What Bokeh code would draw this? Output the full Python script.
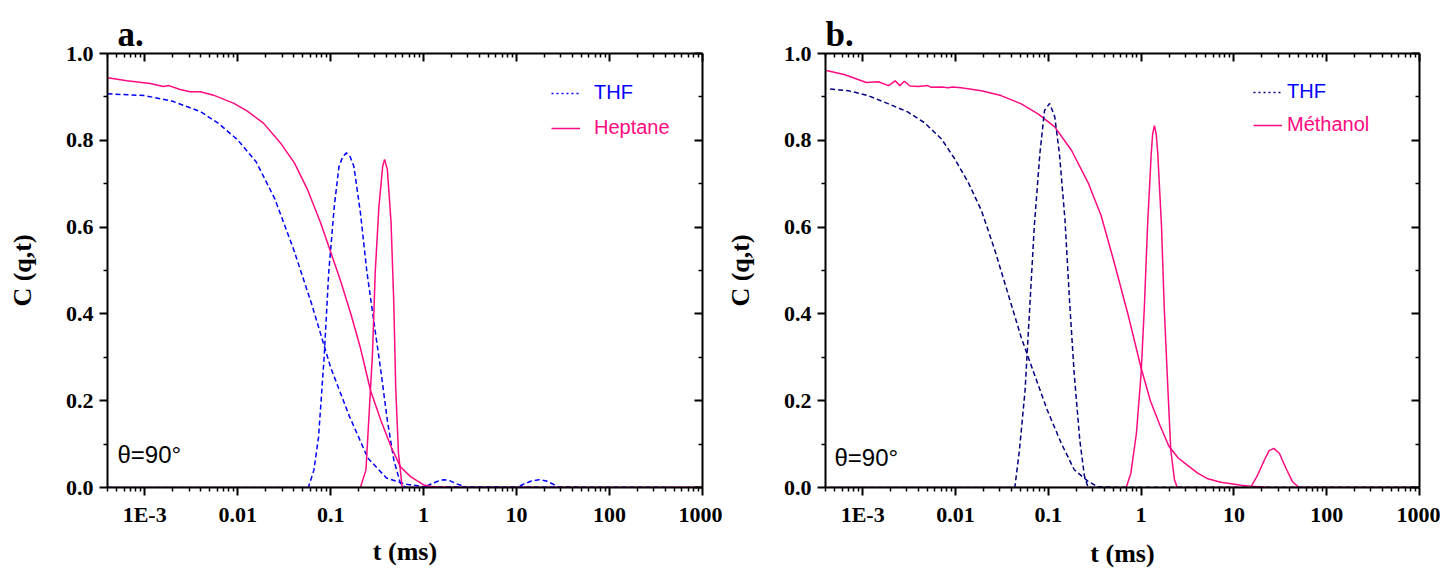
import numpy as np
from bokeh.plotting import figure
from bokeh.models import (Range1d, FixedTicker, LogAxis, LinearAxis, Legend,
                          LegendItem, Label, Title, CustomJSTickFormatter)
from bokeh.layouts import row
from bokeh.embed import file_html
from bokeh.resources import INLINE

# ---------------- data (t given as log10 of t in ms) ----------------
X_TICKS = [1e-3, 1e-2, 1e-1, 1.0, 10.0, 100.0, 1000.0]
X_TICK_LABELS = ["1E-3", "0.01", "0.1", "1", "10", "100", "1000"]
Y_TICKS = [0.0, 0.2, 0.4, 0.6, 0.8, 1.0]
Y_TICK_LABELS = ["0.0", "0.2", "0.4", "0.6", "0.8", "1.0"]
Y_MINOR = [0.1, 0.3, 0.5, 0.7, 0.9]

# panel a : THF correlation function
THF_A_DECAY_LOGT = [-3.40, -3.0, -2.7, -2.4, -2.2, -2.0, -1.8, -1.6, -1.4, -1.2,
                    -1.0, -0.8, -0.6, -0.4, -0.2, 0.0, 3.0]
THF_A_DECAY_C = [0.907, 0.903, 0.890, 0.866, 0.838, 0.801, 0.750, 0.665, 0.550, 0.420,
                 0.277, 0.165, 0.068, 0.022, 0.008, 0.002, 0.0]
# panel a : THF distribution
THF_A_DIST_LOGT = [-3.40, -1.24, -1.18, -1.13, -1.07, -1.02, -0.96, -0.91, -0.87, -0.83,
                   -0.79, -0.75, -0.68, -0.61, -0.53, -0.46, -0.39, -0.32, -0.25, -0.19,
                   0.0, 0.08, 0.16, 0.215, 0.28, 0.36, 0.47,
                   1.0, 1.08, 1.16, 1.24, 1.32, 1.40, 1.46, 3.0]
THF_A_DIST_C = [0.0, 0.0, 0.040, 0.116, 0.299, 0.497, 0.649, 0.740, 0.762, 0.771,
                0.762, 0.740, 0.634, 0.497, 0.375, 0.269, 0.155, 0.063, 0.010, 0.0,
                0.0, 0.008, 0.015, 0.018, 0.016, 0.008, 0.0,
                0.0, 0.008, 0.015, 0.018, 0.015, 0.007, 0.0, 0.0]
# panel a : Heptane correlation function
HEP_DECAY_LOGT = [-3.40, -3.19, -2.94, -2.80, -2.74, -2.62, -2.51, -2.40, -2.26, -2.04,
                  -1.90, -1.72, -1.54, -1.39, -1.25, -1.11, -1.0, -0.89, -0.78, -0.68,
                  -0.57, -0.46, -0.35, -0.25, -0.14, 0.0, 0.1, 0.3, 3.0]
HEP_DECAY_C = [0.944, 0.937, 0.931, 0.924, 0.926, 0.917, 0.912, 0.912, 0.904, 0.885,
               0.868, 0.839, 0.794, 0.748, 0.687, 0.611, 0.543, 0.474, 0.398, 0.322,
               0.223, 0.155, 0.094, 0.048, 0.025, 0.006, 0.002, 0.0, 0.0]
# panel a : Heptane distribution
HEP_DIST_LOGT = [-3.40, -0.68, -0.62, -0.59, -0.55, -0.52, -0.48, -0.44, -0.42, -0.39,
                 -0.35, -0.32, -0.30, -0.27, -0.23, 3.0]
HEP_DIST_C = [0.0, 0.0, 0.040, 0.155, 0.307, 0.497, 0.649, 0.740, 0.756, 0.733,
              0.611, 0.421, 0.231, 0.078, 0.0, 0.0]

# panel b : THF correlation function
THF_B_DECAY_LOGT = [-3.35, -3.15, -2.94, -2.72, -2.51, -2.33, -2.15, -2.01, -1.86, -1.72,
                    -1.58, -1.43, -1.29, -1.15, -1.01, -0.86, -0.72, -0.57, -0.47, -0.3, 3.0]
THF_B_DECAY_C = [0.918, 0.914, 0.903, 0.884, 0.865, 0.840, 0.803, 0.758, 0.702, 0.638,
                 0.550, 0.444, 0.345, 0.261, 0.178, 0.102, 0.041, 0.014, 0.002, 0.0, 0.0]
# panel b : THF distribution
THF_B_DIST_LOGT = [-3.35, -1.36, -1.31, -1.25, -1.20, -1.15, -1.09, -1.04, -0.985, -0.93,
                   -0.88, -0.82, -0.77, -0.72, -0.66, -0.61, -0.57, 3.0]
THF_B_DIST_C = [0.0, 0.0, 0.087, 0.223, 0.413, 0.603, 0.770, 0.869, 0.885, 0.854,
                0.770, 0.618, 0.428, 0.261, 0.109, 0.026, 0.0, 0.0]
# panel b : Methanol correlation function
MET_DECAY_LOGT = [-3.39, -3.19, -2.96, -2.83, -2.72, -2.65, -2.60, -2.55, -2.49, -2.40,
                  -2.30, -2.26, -2.15, -2.08, -2.03, -1.94, -1.72, -1.51, -1.29, -1.11,
                  -0.93, -0.75, -0.57, -0.43, -0.29, -0.14, 0.0, 0.10, 0.20, 0.30,
                  0.40, 0.47, 0.61, 0.72, 0.86, 1.08, 1.18, 1.4, 3.0]
MET_DECAY_C = [0.961, 0.951, 0.933, 0.935, 0.926, 0.937, 0.926, 0.936, 0.925, 0.924,
               0.926, 0.922, 0.923, 0.921, 0.923, 0.921, 0.914, 0.903, 0.884, 0.861,
               0.831, 0.777, 0.702, 0.626, 0.519, 0.398, 0.276, 0.200, 0.145, 0.095,
               0.068, 0.056, 0.033, 0.020, 0.012, 0.005, 0.003, 0.0, 0.0]
# panel b : Methanol distribution
MET_DIST_LOGT = [-3.39, -0.16, -0.11, -0.05, 0.0, 0.035, 0.07, 0.11, 0.125, 0.144,
                 0.163, 0.18, 0.22, 0.25, 0.29, 0.32, 0.36, 0.39,
                 1.18, 1.25, 1.33, 1.38, 1.43, 1.49, 1.56, 1.63, 1.70, 3.0]
MET_DIST_C = [0.0, 0.0, 0.033, 0.125, 0.261, 0.413, 0.603, 0.770, 0.815, 0.834,
              0.815, 0.770, 0.603, 0.413, 0.223, 0.087, 0.018, 0.0,
              0.0, 0.026, 0.064, 0.085, 0.090, 0.079, 0.045, 0.014, 0.0, 0.0]

PINK = "#FF0A80"
BLUE = "#0000FF"
NAVY = "#000080"
SERIF = "Liberation Serif"
SANS = "Liberation Sans"

X_MIN = 10 ** -3.40
X_MAX = 1000.0
FIG_H = 570


def t(logt):
    return 10 ** np.array(logt, dtype=float)


X_FMT = CustomJSTickFormatter(args=dict(labels=X_TICK_LABELS), code="""
    const i = Math.round(Math.log10(tick)) + 3;
    return (i >= 0 && i < labels.length) ? labels[i] : "";
""")
Y_FMT = CustomJSTickFormatter(args=dict(labels=Y_TICK_LABELS), code="""
    const i = Math.round(tick * 5);
    return (i >= 0 && i < labels.length) ? labels[i] : "";
""")
BLANK_FMT = CustomJSTickFormatter(code='return "";')


def make_panel(width, border_left, border_right, border_top, frame_h, xlabel_standoff,
               panel_label, label_offset):
    p = figure(width=width, height=FIG_H, x_axis_type="log",
               x_range=Range1d(X_MIN, X_MAX), y_range=Range1d(0, 1),
               output_backend="svg", toolbar_location=None,
               min_border_left=border_left, min_border_right=border_right,
               min_border_top=border_top,
               min_border_bottom=FIG_H - border_top - frame_h)
    p.outline_line_color = None
    p.xgrid.visible = False
    p.ygrid.visible = False

    x_minor = [m * 10.0 ** e for e in range(-4, 3) for m in range(2, 10)
               if X_MIN <= m * 10.0 ** e <= X_MAX]
    xt = FixedTicker(ticks=X_TICKS, minor_ticks=x_minor)
    yt = FixedTicker(ticks=Y_TICKS, minor_ticks=Y_MINOR)

    for ax, tk, fmt in ((p.xaxis[0], xt, X_FMT), (p.yaxis[0], yt, Y_FMT)):
        ax.ticker = tk
        ax.formatter = fmt
        ax.major_label_text_font = SERIF
        ax.major_label_text_font_style = "bold"
        ax.major_label_text_font_size = "22px"
        ax.major_label_text_color = "black"
        ax.major_label_standoff = 6
        ax.axis_line_width = 2
        ax.major_tick_line_width = 2
        ax.minor_tick_line_width = 1.5
        ax.major_tick_out = 8
        ax.major_tick_in = 0
        ax.minor_tick_out = 4
        ax.minor_tick_in = 0
        ax.axis_label_text_font = SERIF
        ax.axis_label_text_font_style = "bold"
        ax.axis_label_text_font_size = "26px"
        ax.axis_label_text_color = "black"
    p.xaxis[0].axis_label = "t (ms)"
    p.xaxis[0].axis_label_standoff = xlabel_standoff
    p.yaxis[0].axis_label = "C (q,t)"
    p.yaxis[0].axis_label_standoff = 26

    top = LogAxis(ticker=xt, formatter=BLANK_FMT)
    right = LinearAxis(ticker=yt, formatter=BLANK_FMT)
    for ax in (top, right):
        ax.major_label_standoff = 0
        ax.major_label_text_font_size = "1px"
        ax.axis_line_width = 2
        ax.major_tick_line_width = 2
        ax.minor_tick_line_width = 1.5
        ax.major_tick_out = 0
        ax.major_tick_in = 8
        ax.minor_tick_out = 0
        ax.minor_tick_in = 4
    p.add_layout(top, "above")
    p.add_layout(right, "right")

    p.add_layout(Title(text=panel_label, align="left", offset=label_offset, standoff=0,
                       text_font=SERIF, text_font_style="bold", text_font_size="35px",
                       text_color="black"), "above")
    return p


def add_legend(p, text, color, line_color, dash, x, y, standoff):
    r = p.line(x=[1.0, 1.0], y=[-1.0, -1.0], line_color=line_color, line_width=1.5,
               line_dash=dash)
    leg = Legend(items=[LegendItem(label=text, renderers=[r])], location=(x, y),
                 padding=0, margin=0, spacing=0, glyph_width=29, glyph_height=20,
                 label_height=20, label_standoff=standoff,
                 label_text_font=SANS, label_text_font_size="20px",
                 label_text_color=color, border_line_color=None,
                 background_fill_alpha=0)
    p.add_layout(leg)


# ---------------- panel a ----------------
pa = make_panel(722, 107, 20, 53, 438, 7, "a.", 10)
pa.line(t(THF_A_DECAY_LOGT), THF_A_DECAY_C, line_color=BLUE, line_width=1.5, line_dash="5 3")
pa.line(t(THF_A_DIST_LOGT), THF_A_DIST_C, line_color=BLUE, line_width=1.5, line_dash="5 3")
pa.line(t(HEP_DECAY_LOGT), HEP_DECAY_C, line_color=PINK, line_width=1.5)
pa.line(t(HEP_DIST_LOGT), HEP_DIST_C, line_color=PINK, line_width=1.5)
add_legend(pa, "THF", BLUE, BLUE, "2 3", 444, 383, 14)
add_legend(pa, "Heptane", PINK, PINK, "solid", 444, 348, 14)
pa.add_layout(Label(x=10, y=33, x_units="screen", y_units="screen", text="\u03b8=90\u00b0",
                    text_font=SANS, text_font_size="24px", text_baseline="middle",
                    text_color="black"))

# ---------------- panel b ----------------
pb = make_panel(718, 102, 21, 49, 439, 9, "b.", 0)
pb.line(t(MET_DECAY_LOGT), MET_DECAY_C, line_color=PINK, line_width=1.5)
pb.line(t(MET_DIST_LOGT), MET_DIST_C, line_color=PINK, line_width=1.5)
pb.line(t(THF_B_DECAY_LOGT), THF_B_DECAY_C, line_color=NAVY, line_width=1.5, line_dash="5 3")
pb.line(t(THF_B_DIST_LOGT), THF_B_DIST_C, line_color=NAVY, line_width=1.5, line_dash="5 3")
add_legend(pb, "THF", BLUE, NAVY, "2 3", 428, 384, 5)
add_legend(pb, "M\u00e9thanol", PINK, PINK, "solid", 428, 351, 5)
pb.add_layout(Label(x=9, y=30, x_units="screen", y_units="screen", text="\u03b8=90\u00b0",
                    text_font=SANS, text_font_size="24px", text_baseline="middle",
                    text_color="black"))

layout = row(pa, pb)
open("out.html", "w").write(file_html(layout, INLINE))
